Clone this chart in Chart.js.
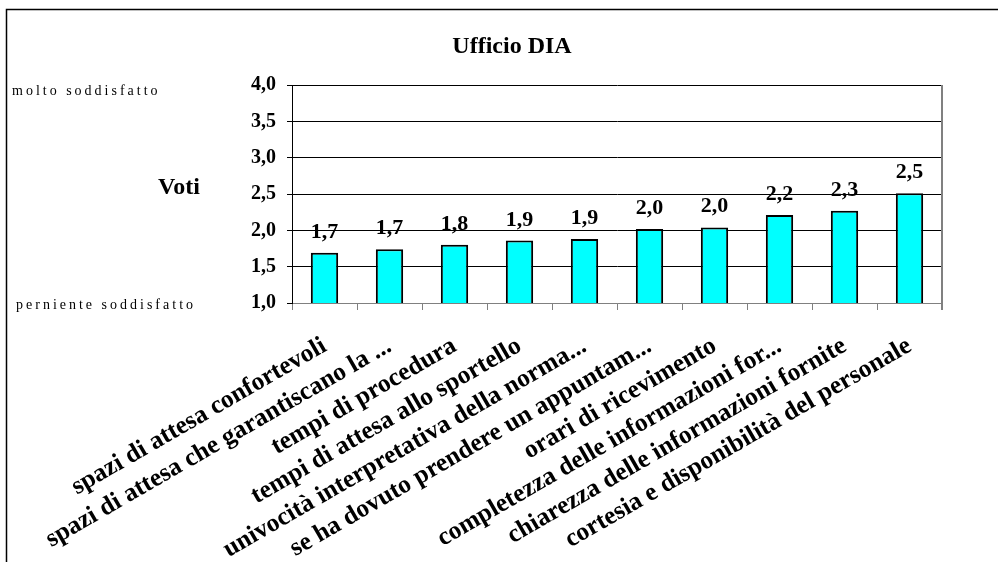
<!DOCTYPE html>
<html>
<head>
<meta charset="utf-8">
<script src="https://cdn.jsdelivr.net/npm/chart.js@4.4.1/dist/chart.umd.min.js"></script>
<style>
  html, body { margin: 0; padding: 0; background: #fff; }
  #wrap { width: 998px; height: 562px; }
</style>
</head>
<body>
<div id="wrap"><canvas id="barChart" width="998" height="562"></canvas></div>
<script>
// data
const categories = [
  "spazi di attesa confortevoli",
  "spazi di attesa che garantiscano la ...",
  "tempi di procedura",
  "tempi di attesa allo sportello",
  "univocità interpretativa della norma...",
  "se ha dovuto prendere un appuntam...",
  "orari di ricevimento",
  "completezza delle informazioni for...",
  "chiarezza delle informazioni fornite",
  "cortesia e disponibilità del personale"
];
const votes = [1.69, 1.74, 1.80, 1.86, 1.88, 2.02, 2.04, 2.21, 2.27, 2.51];
const yTickValues = [1.0, 1.5, 2.0, 2.5, 3.0, 3.5, 4.0];

const chartTitle = "Ufficio DIA";
const axisTitle = "Voti";
const topNote = "molto soddisfatto";
const bottomNote = "perniente soddisfatto";

const SERIF = '"Liberation Serif", "Times New Roman", serif';

// comma as decimal separator, one decimal
const fmt = (v) => Number(v).toFixed(1).replace(".", ",");

const decorPlugin = {
  id: "decor",
  beforeDraw(chart) {
    const ctx = chart.ctx;
    ctx.save();
    ctx.fillStyle = "#fff";
    ctx.fillRect(0, 0, chart.width, chart.height);

    // outer frame (cut at right and bottom)
    ctx.strokeStyle = "#000";
    ctx.lineWidth = 1.5;
    ctx.beginPath();
    ctx.moveTo(6.5, chart.height);
    ctx.lineTo(6.5, 9.5);
    ctx.lineTo(chart.width, 9.5);
    ctx.stroke();

    ctx.fillStyle = "#000";
    ctx.textAlign = "center";
    ctx.textBaseline = "alphabetic";
    ctx.font = "bold 24px " + SERIF;
    ctx.fillText(chartTitle, 512, 53);

    ctx.font = "bold 24px " + SERIF;
    ctx.fillText(axisTitle, 179, 194);

    ctx.textAlign = "left";
    ctx.font = "14px " + SERIF;
    ctx.letterSpacing = "3px";
    ctx.fillText(topNote, 12, 95);
    ctx.fillText(bottomNote, 16, 309);
    ctx.restore();
  },
  afterDatasetsDraw(chart) {
    const ctx = chart.ctx;
    const meta = chart.getDatasetMeta(0);
    ctx.save();
    ctx.fillStyle = "#000";
    ctx.font = "bold 22px " + SERIF;
    ctx.textAlign = "center";
    ctx.textBaseline = "alphabetic";
    meta.data.forEach((bar, i) => {
      ctx.fillText(fmt(chart.data.datasets[0].data[i]), bar.x, bar.y - 15);
    });
    ctx.restore();
  },
  afterDraw(chart) {
    // right edge of the plot area
    const a = chart.chartArea;
    const ctx = chart.ctx;
    ctx.save();
    ctx.strokeStyle = "#808080";
    ctx.lineWidth = 2;
    ctx.beginPath();
    ctx.moveTo(a.right, a.top);
    ctx.lineTo(a.right, a.bottom + 7);
    ctx.stroke();
    ctx.restore();
  }
};

const ctx = document.getElementById("barChart").getContext("2d");

new Chart(ctx, {
  type: "bar",
  data: {
    labels: categories,
    datasets: [
      {
        label: "Voti",
        data: votes,
        backgroundColor: "#00FFFF",
        borderColor: "#000",
        borderWidth: 2,
        categoryPercentage: 1,
        barPercentage: 0.42,
      },
    ],
  },
  options: {
    responsive: false,
    animation: false,
    devicePixelRatio: 1,
    layout: {
      padding: { top: 85, right: 56, left: 0, bottom: 0 },
    },
    plugins: {
      legend: { display: false },
      title: { display: false },
      tooltip: { enabled: false },
    },
    scales: {
      x: {
        grid: {
          display: true,
          drawOnChartArea: false,
          drawTicks: true,
          tickLength: 7,
          color: "#808080",
          offset: true,
        },
        border: { color: "#808080", width: 1 },
        ticks: {
          autoSkip: false,
          minRotation: 30,
          maxRotation: 30,
          padding: 21,
          color: "#000",
          font: { family: SERIF, size: 25.5, weight: "bold" },
        },
        afterFit(scale) {
          scale.height = 259;
        },
      },
      y: {
        min: 1,
        max: 4,
        afterBuildTicks(scale) {
          scale.ticks = yTickValues.map((v) => ({ value: v }));
        },
        grid: {
          color: (c) => (c.tick && c.tick.value === 1 ? "#808080" : "#000"),
          tickColor: "#000",
          tickLength: 5,
          lineWidth: 1,
        },
        border: { color: "#000", width: 1 },
        ticks: {
          padding: 11,
          color: "#000",
          font: { family: SERIF, size: 20, weight: "bold" },
          callback: (v) => fmt(v),
        },
        afterFit(scale) {
          scale.width = 292;
        },
      },
    },
  },
  plugins: [decorPlugin],
});
</script>
</body>
</html>
